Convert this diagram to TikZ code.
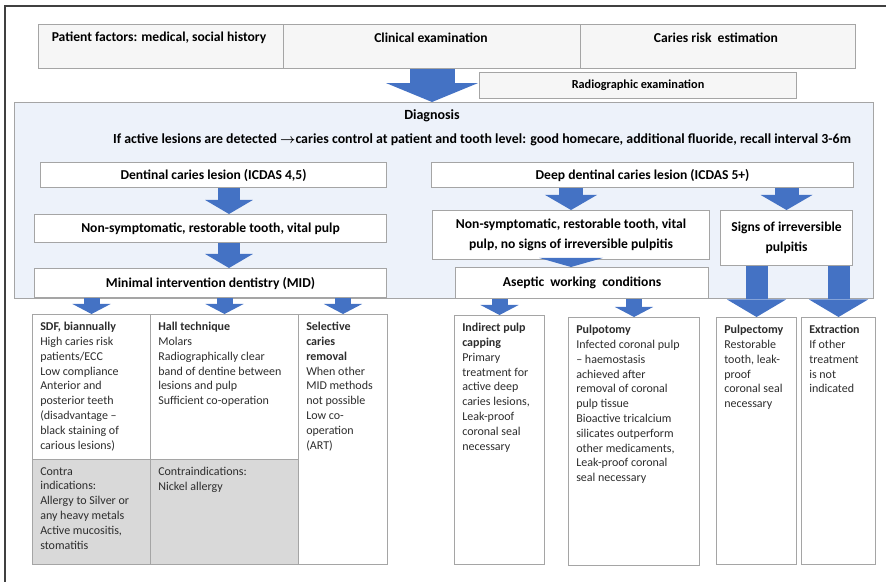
\documentclass[tikz,border=0pt]{standalone}
\usepackage{fontspec}
\setmainfont{Carlito}
\usetikzlibrary{arrows.meta, positioning, calc}

\definecolor{arrowblue}{RGB}{68,114,196}
\definecolor{framegray}{RGB}{64,64,64}
\definecolor{boxgray}{RGB}{165,165,165}
\definecolor{topfill}{RGB}{246,246,246}
\definecolor{diagfill}{RGB}{237,242,250}
\definecolor{cigray}{RGB}{217,217,217}
\definecolor{textgray}{RGB}{45,45,45}
\newcommand{\unitpx}{0.75pt}
\newcommand{\txtsize}{\fontsize{9}{11.1}\selectfont}
\newcommand{\boxsize}{\fontsize{10.2}{14.8}\selectfont}

\tikzset{
  box/.style n args={2}{draw=boxgray, line width=0.8pt, fill=white, anchor=north west, inner sep=0pt,
    minimum width=#1*\unitpx, minimum height=#2*\unitpx, align=center, font=\boxsize\bfseries},
  topbox/.style n args={2}{box={#1}{#2}, fill=topfill},
  cibox/.style n args={2}{box={#1}{#2}, fill=cigray},
  coltext/.style={anchor=north west, inner sep=0pt, align=left, font=\txtsize, text=textgray},
  headtext/.style={inner sep=0pt, font=\boxsize\bfseries},
  fat/.style n args={3}{draw=arrowblue, line width=#1*\unitpx,
    -{Triangle[width=0pt #2, length=0pt #3, line width=0pt 0 0]}},
}

\begin{document}
\begin{tikzpicture}[x=0.75pt,y=0.75pt,yscale=-1,xscale=1]
\useasboundingbox (0,0) rectangle (886,582);

% Frame
\draw[framegray, line width=1.4pt] (5,582) -- (5,6) -- (886,6);

% Top row
\node[topbox={245}{44}] (pat) at (38,24) {};
\node[topbox={297}{44}] (clin) at (283,24) {};
\node[topbox={275}{44}] (risk) at (580,24) {};
\node[topbox={317}{26}, font=\fontsize{9.2}{11}\selectfont\bfseries] (radio) at (479,72) {Radiographic examination};

% Diagnosis
\node[box={859}{196}, fill=diagfill] (diag) at (14,102) {};
\node[box={346}{25}] (dent) at (40,162) {Dentinal caries lesion (ICDAS 4,5)};
\node[box={422}{25}] (deep) at (431,162) {Deep dentinal caries lesion (ICDAS 5+)};
\node[box={352}{28}] (nsl) at (34,214) {Non-symptomatic, restorable tooth, vital pulp};
\node[box={352}{29}] (mid) at (34,268) {Minimal intervention dentistry (MID)};
\node[box={277}{49}] (nsr) at (432,210) {Non-symptomatic, restorable tooth, vital\\pulp, no signs of irreversible pulpitis};
\node[box={132}{55}] (signs) at (720,210) {Signs of irreversible\\pulpitis};
\node[box={253}{31}] (asep) at (455,267) {Aseptic\ \ working\ \ conditions};

% Treatment boxes
\node[box={118}{145}] (sdf) at (32,314) {};
\node[cibox={118}{105}] (sdfci) at (32,459) {};
\node[box={148}{145}] (hall) at (150,314) {};
\node[cibox={148}{105}] (hallci) at (150,459) {};
\node[box={89}{250}] (sel) at (298,314) {};
\node[box={90}{249}] (ipc) at (454,315) {};
\node[box={131}{248}] (pulpot) at (568,317) {};
\node[box={80}{247}] (pulpec) at (716,317) {};
\node[box={74}{247}] (extr) at (801,317) {};

% Text Node
\node[headtext] (patt) at (159,38) {Patient factors: medical, social history};
\node[headtext] (clint) at (431,38) {Clinical examination};
\node[headtext] (riskt) at (716,38) {Caries risk\ \ estimation};
\node[headtext, font=\fontsize{10.5}{12}\selectfont\bfseries] (diagt) at (432,116) {Diagnosis};
\node[headtext, font=\fontsize{10.4}{12}\selectfont\bfseries] (diagl) at (482,140) {If active lesions are detected {\boldmath$\rightarrow$}caries control at patient and tooth level: good homecare, additional fluoride, recall interval 3-6m};

% Text Node
\node[coltext] (sdft) at (40,322) {\textbf{SDF, biannually}\\High caries risk\\patients/ECC\\Low compliance\\Anterior and\\posterior teeth\\(disadvantage --\\black staining of\\carious lesions)};
\node[coltext] (sdfcit) at (40,467) {Contra\\indications:\\Allergy to Silver or\\any heavy metals\\Active mucositis,\\stomatitis};
\node[coltext] (hallt) at (158,322) {\textbf{Hall technique}\\Molars\\Radiographically clear\\band of dentine between\\lesions and pulp\\Sufficient co-operation};
\node[coltext] (hallcit) at (158,467) {Contraindications:\\Nickel allergy};
\node[coltext] (selt) at (306,322) {\textbf{Selective}\\\textbf{caries}\\\textbf{removal}\\When other\\MID methods\\not possible\\Low co-\\operation\\(ART)};
\node[coltext] (ipct) at (462,323) {\textbf{Indirect pulp}\\\textbf{capping}\\Primary\\treatment for\\active deep\\caries lesions,\\Leak-proof\\coronal seal\\necessary};
\node[coltext] (pulpott) at (576,325) {\textbf{Pulpotomy}\\Infected coronal pulp\\-- haemostasis\\achieved after\\removal of coronal\\pulp tissue\\Bioactive tricalcium\\silicates outperform\\other medicaments,\\Leak-proof coronal\\seal necessary};
\node[coltext] (pulpect) at (724,325) {\textbf{Pulpectomy}\\Restorable\\tooth, leak-\\proof\\coronal seal\\necessary};
\node[coltext] (extrt) at (809,325) {\textbf{Extraction}\\If other\\treatment\\is not\\indicated};

% Arrows
\coordinate (lcol) at (229,0);
\draw[fat={45}{2.04}{0.42}] (clin.south) -- (diag.north -| clin.south);
\draw[fat={22}{2.18}{0.64}] (dent.south -| lcol) -- (nsl.north -| lcol);
\draw[fat={22}{2.18}{0.64}] (nsl.south -| lcol) -- (mid.north -| lcol);
\draw[fat={24}{2.17}{0.63}] (deep.south -| nsr.north) -- (nsr.north);
\draw[fat={24}{2.17}{0.63}] (deep.south -| signs.north) -- (signs.north);
\draw[fat={26}{2.46}{0.35}] (nsr.south) -- (asep.north -| nsr.south);
\foreach \b in {sdf,hall,sel}
  \draw[fat={16}{2.4}{0.63}] (mid.south -| \b.north) -- (\b.north);
\foreach \b in {ipc,pulpot}
  \draw[fat={16}{2.4}{0.63}] (asep.south -| \b.north) -- (\b.north);
\foreach \b in {pulpec,extr}
  \draw[fat={22}{2.7}{0.8}] (signs.south -| \b.north) -- (\b.north);

\end{tikzpicture}
\end{document}
